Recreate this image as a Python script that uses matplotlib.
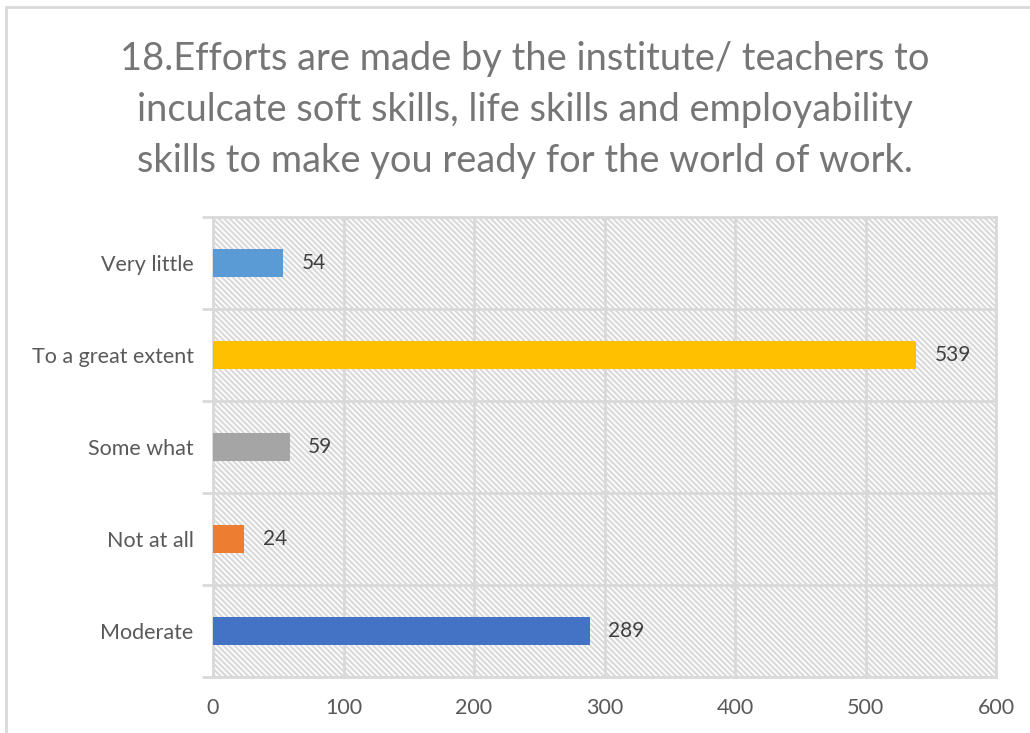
import matplotlib.pyplot as plt
import matplotlib.patches as mpatches
import numpy as np

categories = ["Very little", "To a great extent", "Some what", "Not at all", "Moderate"]
values = [54, 539, 59, 24, 289]
colors = ["#5B9BD5", "#FFC000", "#A5A5A5", "#ED7D31", "#4472C4"]
xticks = [0, 100, 200, 300, 400, 500, 600]

plt.rcParams['font.family'] = ['Lato', 'DejaVu Sans']
plt.rcParams['hatch.color'] = '#DADADA'
plt.rcParams['hatch.linewidth'] = 1.6

fig = plt.figure(figsize=(10.3, 7.33), dpi=100)
W, H = 1030, 733
ax = fig.add_axes([213 / W, (H - 677) / H, 783 / W, 460 / H])

# hatched plot background
ax.add_patch(mpatches.Rectangle((0, 0), 1, 1, transform=ax.transAxes,
                                facecolor='white', hatch='\\\\\\\\\\\\', edgecolor='#DADADA',
                                linewidth=0, zorder=0))

y = np.arange(len(categories))
ax.barh(y, values, height=0.3, color=colors, zorder=3)
for yi, v in zip(y, values):
    ax.text(v + 14, yi, str(v), va='center', ha='left', fontsize=15, color='#404040', zorder=4)

ax.set_xlim(0, 600)
ax.set_ylim(len(categories) - 0.5, -0.5)
ax.set_xticks(xticks)
ax.set_xticklabels([str(t) for t in xticks])
ax.set_yticks(y)
ax.set_yticklabels(categories)
ax.set_yticks(np.arange(-0.5, len(categories)), minor=True)
ax.tick_params(axis='y', which='major', length=0, pad=14, labelsize=15.5, labelcolor='#595959')
ax.tick_params(axis='y', which='minor', length=8, width=2, color='#D9D9D9')
ax.tick_params(axis='x', length=0, pad=15, labelsize=15.5, labelcolor='#595959')
ax.grid(axis='x', color='#D9D9D9', linewidth=2, zorder=1)
ax.grid(axis='y', which='minor', color='#D9D9D9', linewidth=2, zorder=1)
for s in ax.spines.values():
    s.set_color('#D9D9D9')
    s.set_linewidth(2)

fig.text(525 / W, 1 - 110 / H,
         "18.Efforts are made by the institute/ teachers to\n"
         "inculcate soft skills, life skills and employability\n"
         "skills to make you ready for the world of work.",
         ha='center', va='center', fontsize=27.4, color='#767676', linespacing=1.53)

# outer chart border
fig.add_artist(mpatches.Rectangle((6 / W, -0.1), 1.2, 1 - 7 / H + 0.1, transform=fig.transFigure,
                                  fill=False, edgecolor='#D9D9D9', linewidth=2))

fig.savefig("out.png", dpi=100)
